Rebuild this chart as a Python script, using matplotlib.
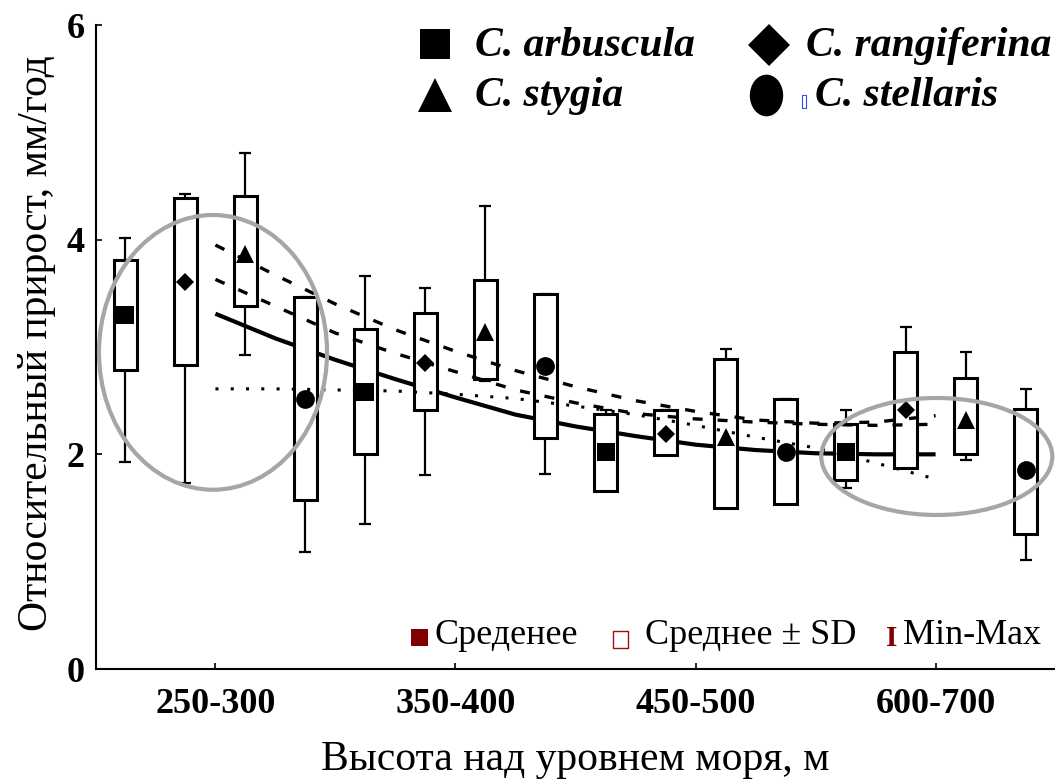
import numpy as np
import matplotlib
matplotlib.use("Agg")
import matplotlib.pyplot as plt
from matplotlib.patches import Ellipse, Rectangle
from matplotlib.lines import Line2D
from matplotlib.path import Path
from matplotlib.markers import MarkerStyle
from matplotlib.transforms import Affine2D

plt.rcParams['font.family'] = ['Liberation Serif', 'DejaVu Serif']

# ---------------- data ----------------
altitude_groups = ["250-300", "350-400", "450-500", "600-700"]
species = ["C. arbuscula", "C. rangiferina", "C. stygia", "C. stellaris"]
species_markers = ["s", "D", "^", "o"]

# 16 boxes: for every altitude group the four species in the order above
means   = [3.30, 3.61, 3.87, 2.52, 2.58, 2.85, 3.14, 2.82, 2.02, 2.19, 2.16, 2.02, 2.02, 2.41, 2.32, 1.85]
sd_low  = [2.79, 2.83, 3.38, 1.57, 2.00, 2.41, 2.70, 2.15, 1.66, 1.99, 1.50, 1.54, 1.76, 1.87, 2.00, 1.26]
sd_high = [3.81, 4.39, 4.41, 3.47, 3.17, 3.32, 3.62, 3.49, 2.38, 2.41, 2.89, 2.52, 2.28, 2.95, 2.71, 2.42]
val_min = [1.93, 1.73, 2.93, 1.09, 1.35, 1.81, 2.68, 1.82, 1.66, 1.99, 1.50, 1.54, 1.69, 1.87, 1.95, 1.02]
val_max = [4.02, 4.43, 4.81, 3.47, 3.66, 3.55, 4.31, 3.49, 2.41, 2.41, 2.98, 2.52, 2.41, 3.19, 2.95, 2.61]

# trend curves (x in box-slot units)
trend_x      = [1.5, 2.5, 3.5, 4.5, 5.5, 6.5, 7.5, 8.5, 9.5, 10.5, 11.5, 12.5, 13.5]
trend_solid  = [3.31, 3.08, 2.88, 2.70, 2.53, 2.37, 2.26, 2.17, 2.09, 2.04, 2.01, 2.00, 2.00]
trend_dash1  = [3.95, 3.67, 3.40, 3.16, 2.96, 2.78, 2.63, 2.50, 2.40, 2.32, 2.29, 2.30, 2.36]
trend_dash2  = [3.63, 3.38, 3.13, 2.94, 2.77, 2.60, 2.48, 2.38, 2.33, 2.30, 2.28, 2.27, 2.28]
trend_dotted = [2.61, 2.61, 2.60, 2.59, 2.56, 2.52, 2.45, 2.37, 2.27, 2.16, 2.06, 1.92, 1.77]

# highlighted regions (center x, center y, width, height)
highlight_cx = [1.46, 13.52]
highlight_cy = [2.95, 1.98]
highlight_w  = [3.80, 3.85]
highlight_h  = [2.56, 1.09]

# ---------------- figure ----------------
W, H = 1055, 784
fig = plt.figure(figsize=(W / 100, H / 100), dpi=100)
ax = fig.add_axes([96 / W, 1 - 669 / H, (W - 96) / W, (669 - 25) / H])

n_sp = len(species)
pos = np.arange(len(means))
box_w = 0.38
cap_w = 0.20

# solid trend below boxes
ax.plot(trend_x, trend_solid, color='black', lw=3.0, zorder=2, solid_capstyle='butt')

# whiskers
ax.vlines(pos, val_min, sd_low, color='black', lw=1.6, zorder=2.5)
ax.vlines(pos, sd_high, val_max, color='black', lw=1.6, zorder=2.5)
ax.hlines(val_min, pos - cap_w / 2, pos + cap_w / 2, color='black', lw=1.6, zorder=2.5)
ax.hlines(val_max, pos - cap_w / 2, pos + cap_w / 2, color='black', lw=1.6, zorder=2.5)

# boxes (mean +- SD)
ax.bar(pos, np.array(sd_high) - np.array(sd_low), bottom=sd_low, width=box_w,
       facecolor='white', edgecolor='black', linewidth=2.2, zorder=3)

# dashed / dotted trends above boxes
ax.plot(trend_x, trend_dash1, color='black', lw=2.4, ls=(0, (3, 4.5)), zorder=4)
ax.plot(trend_x, trend_dash2, color='black', lw=2.4, ls=(0, (3, 4.5)), zorder=4)
ax.plot(trend_x, trend_dotted, color='black', lw=2.2, ls=(0, (1, 4)), zorder=4)

# means
sizes = {"s": 13.5, "D": 9.6, "^": 13.5, "o": 13.5}
for k, m in enumerate(species_markers):
    idx = pos[k::n_sp]
    ax.plot(idx, np.array(means)[k::n_sp], ls='none', marker=m, ms=sizes[m],
            color='black', markeredgewidth=0, zorder=5)

# highlight ellipses
for cx, cy, w, h in zip(highlight_cx, highlight_cy, highlight_w, highlight_h):
    ax.add_patch(Ellipse((cx, cy), w, h, fill=False, edgecolor='#a6a6a6', lw=3.0,
                         zorder=6, clip_on=False))

# axes styling
ax.set_xlim(-0.49, 15.49)
ax.set_ylim(0, 6)
ax.spines['top'].set_visible(False)
ax.spines['right'].set_visible(False)
for s in ('left', 'bottom'):
    ax.spines[s].set_linewidth(1.5)
group_pos = [g * n_sp + (n_sp - 1) / 2 for g in range(len(altitude_groups))]
ax.set_xticks(group_pos)
ax.set_xticklabels(altitude_groups, fontsize=26, fontweight='bold')
ax.set_yticks([0, 2, 4, 6])
ax.set_yticklabels(['0', '2', '4', '6'], fontsize=26, fontweight='bold')
ax.tick_params(axis='both', direction='in', length=4, width=1.2)
ax.tick_params(axis='x', pad=14)
ax.tick_params(axis='y', pad=8)

fig.text(575 / W, 1 - 760 / H, "Высота над уровнем моря, м", fontsize=30,
         ha='center', va='center')
fig.text(37 / W, 1 - 343 / H, "Относительный прирост, мм/год", fontsize=30,
         ha='center', va='center', rotation=90)

# ---------------- species legend ----------------
def fx(px):
    return px / W

def fy(py):
    return 1 - py / H

ell = Path.unit_circle().transformed(Affine2D().scale(0.8, 1.0))
leg_items = [
    (435, 44, 's', 21, "C. arbuscula", 475, 46),
    (769, 45, 'D', 21, "C. rangiferina", 806, 46),
    (435, 95, '^', 24, "C. stygia", 475, 96),
    (766, 95, MarkerStyle(ell), 30, "C. stellaris", 815, 96),
]
for mx, my, mk, ms, txt, tx, ty in leg_items:
    fig.add_artist(Line2D([fx(mx)], [fy(my)], marker=mk, ms=ms, color='black',
                          markeredgewidth=0, ls='none'))
    fig.text(fx(tx), fy(ty), txt, fontsize=30, fontweight='bold', fontstyle='italic',
             ha='left', va='center')
fig.add_artist(Rectangle((fx(802), fy(108)), 4 / W, 13 / H, fill=False,
                         edgecolor='#3050e0', lw=0.8))

# ---------------- statistics legend ----------------
red = '#800000'
fig.add_artist(Rectangle((fx(411), fy(646)), 17 / W, 17 / H, facecolor=red,
                         edgecolor=red, lw=0))
fig.text(fx(434), fy(636), "Среденее", fontsize=26, ha='left', va='center')
fig.add_artist(Rectangle((fx(613), fy(648)), 15 / W, 17 / H, facecolor='white',
                         edgecolor='#a01010', lw=1.0))
fig.text(fx(645), fy(636), "Среднее ± SD", fontsize=26, ha='left', va='center')
fig.text(fx(892), fy(638), "I", fontsize=21, fontweight='bold', color=red,
         ha='center', va='center')
fig.text(fx(903), fy(636), "Min-Max", fontsize=26, ha='left', va='center')

fig.savefig("out.png", dpi=100)
